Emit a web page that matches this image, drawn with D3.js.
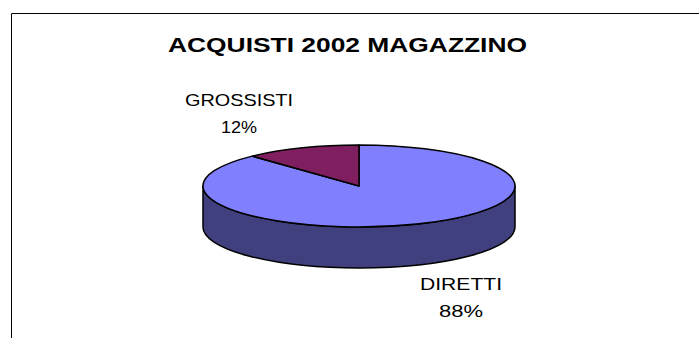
<!DOCTYPE html>
<html><head><meta charset="utf-8">
<script src="https://cdn.jsdelivr.net/npm/d3@7"></script>
<style>html,body{margin:0;padding:0;background:#fff;overflow:hidden}</style>
</head><body>
<svg id="c" width="699" height="338"></svg>
<script>
const title = "ACQUISTI 2002 MAGAZZINO";
const categories = ["DIRETTI", "GROSSISTI"];
const values = [88, 12];
const percentLabels = ["88%", "12%"];
const topColors = ["#8080ff", "#7f1f5f"];
const sideColors = ["#40407f", "#40102f"];

const svg = d3.select("#c");
const W = 699, H = 338;

// frame (only left and top visible)
svg.append("path").attr("d", "M11.5,338 L11.5,13.5 L699,13.5")
  .attr("fill", "none").attr("stroke", "#000").attr("stroke-width", 1);

svg.append("text").attr("x", 347.5).attr("y", 52)
  .attr("text-anchor", "middle")
  .attr("font-family", "Liberation Sans, Arial, sans-serif")
  .attr("font-weight", "bold").attr("font-size", 21)
  .attr("textLength", 359).attr("lengthAdjust", "spacingAndGlyphs")
  .text(title);

const cx = 359, cy = 186, rx = 156, ry = 41, depth = 41;
const pie = d3.pie().sort(null).startAngle(0).endAngle(2 * Math.PI);
const arcs = pie(values);
const P = (a, dy = 0) => [cx + rx * Math.sin(a), cy - ry * Math.cos(a) + dy];

// sides (front half: angles between PI/2 and 3PI/2)
arcs.forEach((d, i) => {
  const s = Math.max(d.startAngle, Math.PI / 2);
  const e = Math.min(d.endAngle, 3 * Math.PI / 2);
  if (e <= s) return;
  const p1 = P(s), p2 = P(e), p3 = P(e, depth), p4 = P(s, depth);
  const large = (e - s) > Math.PI ? 1 : 0;
  const path = `M${p1} A${rx},${ry} 0 ${large} 1 ${p2} L${p3} A${rx},${ry} 0 ${large} 0 ${p4} Z`;
  svg.append("path").attr("d", path).attr("fill", sideColors[i])
    .attr("stroke", "#000").attr("stroke-width", 1.5).attr("stroke-linejoin", "round");
});

// tops
arcs.forEach((d, i) => {
  const p1 = P(d.startAngle), p2 = P(d.endAngle);
  const large = (d.endAngle - d.startAngle) > Math.PI ? 1 : 0;
  const path = `M${cx},${cy} L${p1} A${rx},${ry} 0 ${large} 1 ${p2} Z`;
  svg.append("path").attr("d", path).attr("fill", topColors[i])
    .attr("stroke", "#000").attr("stroke-width", 1.5).attr("stroke-linejoin", "round");
});

// labels
const labelPos = [
  {x: 461, y1: 290, y2: 316.5, w1: 82, w2: 44},
  {x: 239, y1: 106, y2: 133, w1: 108, w2: 36}
];
categories.forEach((c, i) => {
  const lp = labelPos[i];
  const g = svg.append("g").attr("font-family", "Liberation Sans, Arial, sans-serif")
    .attr("font-size", 17).attr("fill", "#000").attr("text-anchor", "middle");
  g.append("text").attr("x", lp.x).attr("y", lp.y1)
    .attr("textLength", lp.w1).attr("lengthAdjust", "spacingAndGlyphs").text(c);
  g.append("text").attr("x", lp.x).attr("y", lp.y2)
    .attr("textLength", lp.w2).attr("lengthAdjust", "spacingAndGlyphs").text(percentLabels[i]);
});
</script>
</body></html>
